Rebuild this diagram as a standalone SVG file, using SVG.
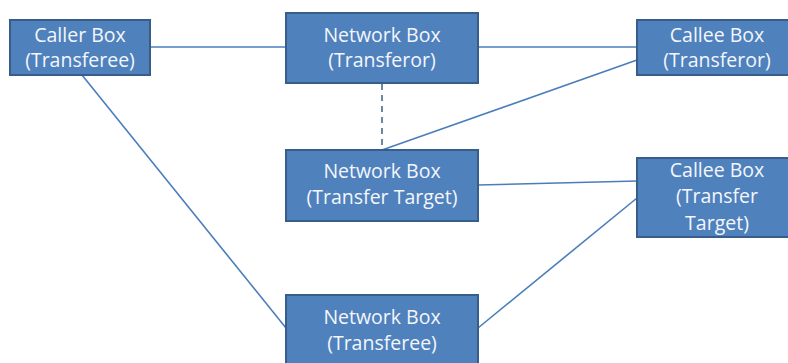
<svg xmlns="http://www.w3.org/2000/svg" width="788" height="363" viewBox="0 0 788 363">
<style>
.box{fill:#4F81BD;stroke:#385D8A;stroke-width:2}
.t{font-family:"Open Sans","Liberation Sans",sans-serif;font-size:19.5px;fill:#f4f6fb;text-anchor:middle}
.c{stroke:#4A7EBB;stroke-width:1.6;fill:none}
.d{stroke:#4A6A8A;stroke-width:1.6;stroke-dasharray:6,5;fill:none}
</style>
<rect width="788" height="363" fill="#ffffff"/>
<g id="connectors">
<line class="c" x1="150" y1="47" x2="286" y2="47"/>
<line class="c" x1="478" y1="47" x2="637" y2="47"/>
<line class="d" x1="382" y1="84" x2="382" y2="150"/>
<line class="c" x1="637" y1="60" x2="382" y2="150"/>
<line class="c" x1="478" y1="185" x2="637" y2="181"/>
<line class="c" x1="637" y1="198" x2="478" y2="328"/>
<line class="c" x1="82" y1="75" x2="286" y2="328"/>
</g>
<g id="caller">
<rect class="box" x="10" y="20" width="140" height="55"/>
<text class="t" x="80" y="42">Caller Box</text>
<text class="t" x="80" y="67">(Transferee)</text>
</g>
<g id="net-transferor">
<rect class="box" x="286" y="13" width="192" height="70"/>
<text class="t" x="382" y="42">Network Box</text>
<text class="t" x="382" y="67">(Transferor)</text>
</g>
<g id="callee-transferor">
<rect class="box" x="637" y="20" width="160" height="55"/>
<text class="t" x="717" y="42">Callee Box</text>
<text class="t" x="717" y="67">(Transferor)</text>
</g>
<g id="net-target">
<rect class="box" x="286" y="150" width="192" height="71"/>
<text class="t" x="382" y="178">Network Box</text>
<text class="t" x="382" y="204">(Transfer Target)</text>
</g>
<g id="callee-target">
<rect class="box" x="637" y="158" width="160" height="79"/>
<text class="t" x="717" y="177">Callee Box</text>
<text class="t" x="717" y="203">(Transfer</text>
<text class="t" x="717" y="230">Target)</text>
</g>
<g id="net-transferee">
<rect class="box" x="286" y="295" width="192" height="80"/>
<text class="t" x="382" y="324">Network Box</text>
<text class="t" x="382" y="350">(Transferee)</text>
</g>
</svg>
